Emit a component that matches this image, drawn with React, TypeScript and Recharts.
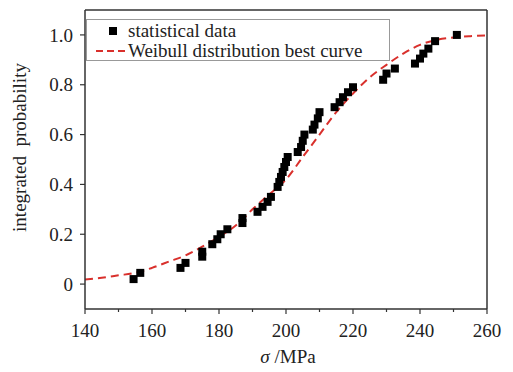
import { ComposedChart, Line, Scatter, XAxis, YAxis, ReferenceLine } from "recharts";

// measured points (sigma in MPa, integrated probability)
const sigma = [
  154.5, 156.5, 168.5, 170, 175, 175, 178, 179.5, 180.5, 182.5, 187, 187, 191.5, 193, 194.5, 195.5, 197.5, 198, 198.5,
  199, 199.5, 200, 200.5, 203.5, 204.5, 205, 205.5, 208, 208.5, 209.5, 210, 214.5, 216, 217, 218.5, 220, 229, 230,
  232.5, 238.5, 240, 241, 242.5, 244.5, 251,
];
const prob = [
  0.02, 0.045, 0.065, 0.085, 0.11, 0.13, 0.16, 0.18, 0.2, 0.22, 0.245, 0.265, 0.29, 0.31, 0.33, 0.35, 0.39, 0.41, 0.43,
  0.45, 0.47, 0.49, 0.51, 0.53, 0.55, 0.575, 0.6, 0.62, 0.64, 0.665, 0.69, 0.71, 0.73, 0.75, 0.77, 0.79, 0.82, 0.845,
  0.865, 0.885, 0.905, 0.925, 0.945, 0.975, 1.0,
];

// fitted curve, every 5 MPa
const curveX = [140, 145, 150, 155, 160, 165, 170, 175, 180, 185, 190, 195, 200, 205, 210, 215, 220, 225, 230, 235, 240, 245, 250, 255, 260];
const curveY = [
  0.018, 0.025, 0.035, 0.045, 0.065, 0.09, 0.115, 0.15, 0.19, 0.235, 0.3, 0.36, 0.42, 0.51, 0.6, 0.69, 0.765, 0.83, 0.88,
  0.925, 0.96, 0.98, 0.99, 0.995, 0.998,
];

const xTicks = [140, 150, 160, 170, 180, 190, 200, 210, 220, 230, 240, 250, 260];
const yTicks = [0, 0.2, 0.4, 0.6, 0.8, 1.0];

const points = sigma.map((s, i) => ({ x: s, y: prob[i] }));
const curve = curveX.map((s, i) => ({ x: s, y: curveY[i] }));

const FONT = "Liberation Serif, serif";
const INK = "#333";
const RED = "#d9302c";

function XTick({ x, y, payload }: any) {
  const major = payload.value % 20 === 0;
  return (
    <g>
      <line x1={x} x2={x} y1={y} y2={y + (major ? 5 : 3)} stroke={INK} strokeWidth={1.2} />
      {major && (
        <text x={x} y={y + 28} textAnchor="middle" fontFamily={FONT} fontSize={19} fill="#222">
          {payload.value}
        </text>
      )}
    </g>
  );
}

function XLabel({ viewBox }: any) {
  const cx = viewBox.x + viewBox.width / 2;
  return (
    <text x={cx + 2} y={viewBox.y + 54} textAnchor="middle" fontFamily={FONT} fontSize={19} fill="#222">
      <tspan fontStyle="italic">σ</tspan> /MPa
    </text>
  );
}

function YLabel({ viewBox }: any) {
  const cy = viewBox.y + viewBox.height / 2 - 12;
  return (
    <text
      x={26}
      y={cy}
      transform={`rotate(-90 26 ${cy})`}
      textAnchor="middle"
      fontFamily={FONT}
      fontSize={19}
      fill="#222"
      style={{ whiteSpace: "pre" }}
    >
      {"integrated  probability"}
    </text>
  );
}

function Square(props: any) {
  const { cx, cy } = props;
  return <rect x={cx - 4} y={cy - 4} width={8} height={8} fill="#000" />;
}

function LegendBox() {
  return (
    <svg width={304} height={42} style={{ position: "absolute", left: 86, top: 19 }}>
      <rect x={0.5} y={0.5} width={303} height={41} fill="#fff" stroke="#999" />
      <rect x={23} y={8} width={8} height={8} fill="#000" />
      <text x={42} y={18} fontFamily={FONT} fontSize={19} fill="#222">
        statistical data
      </text>
      <line x1={10} x2={41} y1={32} y2={32} stroke={RED} strokeWidth={2} strokeDasharray="7 4" />
      <text x={42} y={38} fontFamily={FONT} fontSize={19} fill="#222">
        Weibull distribution best curve
      </text>
    </svg>
  );
}

export default function App() {
  return (
    <div style={{ position: "absolute", left: 0, top: 0, width: 513, height: 372, background: "#fff" }}>
      <ComposedChart width={513} height={372} margin={{ top: 10, right: 26, left: 0, bottom: 0 }}>
        <XAxis
          type="number"
          dataKey="x"
          domain={[140, 260]}
          ticks={xTicks}
          interval={0}
          tick={<XTick />}
          tickSize={0}
          tickMargin={0}
          tickLine={false}
          axisLine={{ stroke: INK, strokeWidth: 1.5 }}
          height={63}
          label={<XLabel />}
        />
        <YAxis
          type="number"
          dataKey="y"
          domain={[-0.1, 1.1]}
          ticks={yTicks}
          interval={0}
          tickFormatter={(v: number) => (v === 0 ? "0" : v.toFixed(1))}
          tick={{ fontFamily: FONT, fontSize: 19, fill: "#222" }}
          tickSize={5}
          tickMargin={7}
          tickLine={{ stroke: INK, strokeWidth: 1.2 }}
          axisLine={{ stroke: INK, strokeWidth: 1.5 }}
          width={85}
          label={<YLabel />}
        />
        <ReferenceLine y={1.1} stroke={INK} strokeWidth={1.5} />
        <ReferenceLine x={260} stroke={INK} strokeWidth={1.5} />
        <Line
          data={curve}
          dataKey="y"
          type="monotone"
          dot={false}
          activeDot={false}
          stroke={RED}
          strokeWidth={2}
          strokeDasharray="8 5"
          isAnimationActive={false}
        />
        <Scatter data={points} dataKey="y" shape={<Square />} isAnimationActive={false} />
      </ComposedChart>
      <LegendBox />
    </div>
  );
}
